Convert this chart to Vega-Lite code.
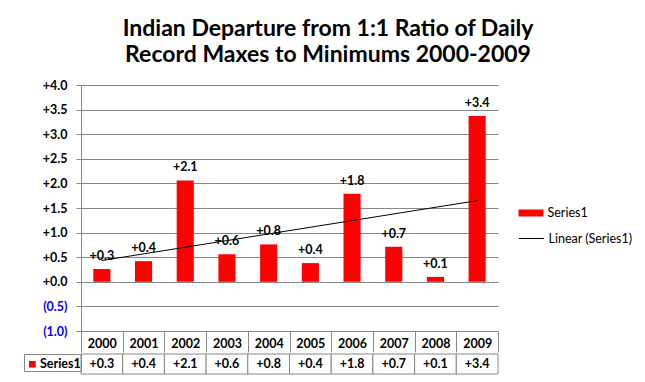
{
  "$schema": "https://vega.github.io/schema/vega-lite/v6.json",
  "background": "white",
  "padding": {"left": 23, "top": 18, "right": 5, "bottom": 5},
  "config": {"view": {"stroke": null}, "font": "Lato"},
  "title": {
    "text": ["Indian Departure from 1:1 Ratio of Daily", "Record Maxes to Minimums 2000-2009"],
    "font": "Lato", "fontSize": 23, "fontWeight": "bold", "lineHeight": 26,
    "anchor": "middle", "offset": 12, "color": "#000000"
  },
  "data": {"values": [
    {"year": 2000, "value": 0.26},
    {"year": 2001, "value": 0.42},
    {"year": 2002, "value": 2.06},
    {"year": 2003, "value": 0.56},
    {"year": 2004, "value": 0.76},
    {"year": 2005, "value": 0.38},
    {"year": 2006, "value": 1.79},
    {"year": 2007, "value": 0.71},
    {"year": 2008, "value": 0.10},
    {"year": 2009, "value": 3.37}
  ]},
  "spacing": 0,
  "vconcat": [
    {
      "width": 417, "height": 246,
      "encoding": {
        "x": {"field": "year", "type": "ordinal",
          "scale": {"paddingInner": 0, "paddingOuter": 0},
          "axis": {"title": null, "orient": "bottom", "labelAngle": 0, "tickBand": "extent", "tickSize": 21,
            "tickColor": "#868686", "domainColor": "#868686", "labelPadding": -9,
            "labelBaseline": "middle", "labelFont": "Lato", "labelFontSize": 12.5, "labelFontWeight": "bold",
            "labelColor": "#000000", "grid": false}},
        "y": {"field": "value", "type": "quantitative",
          "scale": {"domain": [-1, 4], "nice": false, "zero": false},
          "axis": {"values": [-1, -0.5, 0, 0.5, 1, 1.5, 2, 2.5, 3, 3.5, 4], "title": null,
            "labelOverlap": false, "labelBound": false,
            "grid": true, "gridColor": "#868686", "domainColor": "#868686", "tickColor": "#868686",
            "tickSize": 5, "labelPadding": 9, "labelFont": "Lato", "labelFontSize": 12.5,
            "labelFontWeight": "bold", "minExtent": 40,
            "labelExpr": "datum.value < 0 ? '(' + format(-datum.value, '.1f') + ')' : '+' + format(datum.value, '.1f')",
            "labelColor": {"condition": {"test": "datum.value < 0", "value": "#0000ff"}, "value": "#000000"}}}
      },
      "layer": [
        {
          "mark": {"type": "bar", "width": {"band": 0.41}},
          "encoding": {
            "fill": {"datum": "Series1", "scale": {"range": ["#ff0000"]},
              "legend": {"orient": "none", "legendX": 437.5, "legendY": 115.5, "title": null, "padding": 0,
                "symbolType": "M-1,-0.28H1V0.28H-1Z", "symbolSize": 625, "symbolStrokeWidth": 0,
                "labelFont": "Lato", "labelFontSize": 12.5, "labelOffset": 4, "labelColor": "#000000"}}
          }
        },
        {
          "mark": {"type": "text", "baseline": "alphabetic", "dy": -9, "fontWeight": "bold", "fontSize": 12.5, "font": "Lato", "color": "#000000"},
          "encoding": {
            "text": {"field": "value", "format": "+.1f"}
          }
        },
        {
          "transform": [{"regression": "value", "on": "year"}],
          "mark": {"type": "line", "strokeWidth": 1},
          "encoding": {
            "stroke": {"datum": "Linear (Series1)", "scale": {"range": ["#000000"]},
              "legend": {"orient": "none", "legendX": 437.5, "legendY": 140.5, "title": null, "padding": 0,
                "symbolType": "stroke", "symbolSize": 625, "symbolStrokeWidth": 1, "symbolStrokeColor": "#000000",
                "labelFont": "Lato", "labelFontSize": 12.5, "labelOffset": 4, "labelColor": "#000000"}}
          }
        }
      ]
    },
    {
      "width": 417, "height": 20,
      "encoding": {
        "x": {"field": "year", "type": "ordinal", "axis": null,
          "scale": {"paddingInner": 0, "paddingOuter": 0}}
      },
      "layer": [
        {"mark": {"type": "rect", "fill": "white", "stroke": "#868686", "strokeWidth": 1}},
        {"mark": {"type": "text", "fontWeight": "bold", "fontSize": 12.5, "font": "Lato", "color": "#000000"},
          "encoding": {"text": {"field": "value", "format": "+.1f"}}},
        {"mark": {"type": "square", "opacity": 0},
          "encoding": {"color": {"datum": "Series1", "scale": {"range": ["#ff0000"]},
            "legend": {"orient": "left", "offset": 0, "title": null, "padding": 0, "strokeColor": "#868686",
              "symbolType": "M-0.5,-0.3H0.17V0.36H-0.5Z", "symbolSize": 400, "symbolOpacity": 1, "symbolFillColor": "#ff0000", "symbolStrokeWidth": 0,
              "labelFont": "Lato", "labelFontSize": 12.5, "labelFontWeight": "bold", "labelOffset": -4, "labelColor": "#000000"}}}}
      ]
    }
  ],
  "resolve": {"scale": {"x": "independent", "color": "independent"}, "legend": {"color": "independent"}}
}
